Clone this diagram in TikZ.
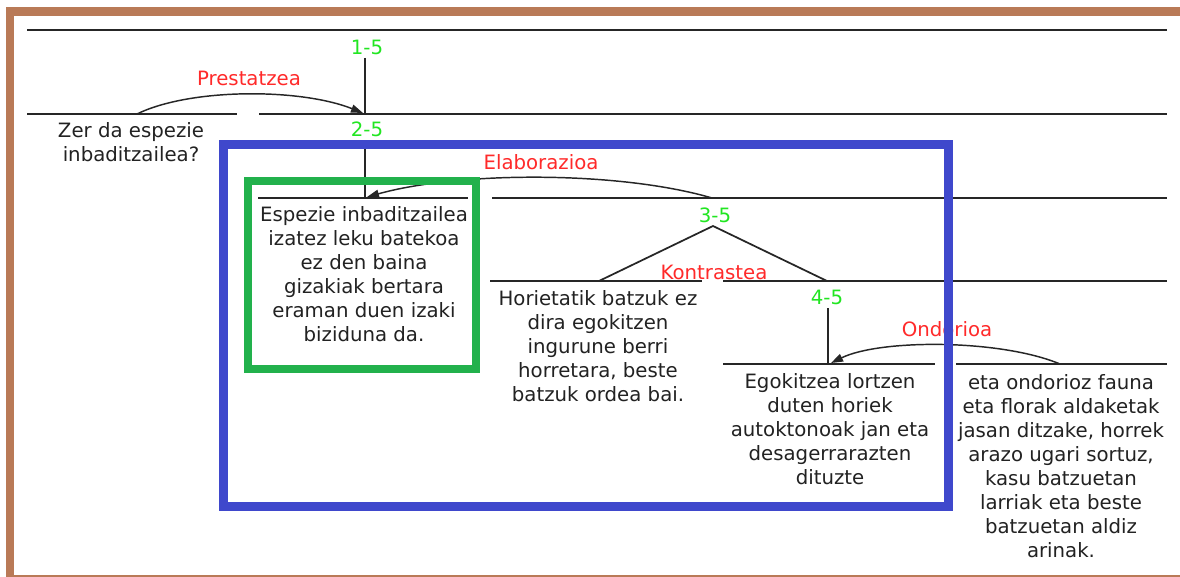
\documentclass[tikz,border=0pt]{standalone}
\usepackage{fontspec}
\setmainfont{DejaVu Sans}
\usetikzlibrary{arrows.meta}
\definecolor{frameBrown}{HTML}{B97A57}
\definecolor{boxBlue}{HTML}{3F48CC}
\definecolor{boxGreen}{HTML}{22B14C}
\definecolor{relRed}{HTML}{FF2A2A}
\definecolor{spanGreen}{HTML}{22E622}
\definecolor{txtGray}{HTML}{222222}
\begin{document}
\begin{tikzpicture}[x=0.75pt,y=-0.75pt,
  seg/.style={line width=1.3pt, draw=black!85},
  rel/.style={line width=1.1pt, draw=black!85, -{Triangle[length=9pt,width=6pt]}},
  reltext/.style={text=relRed, font=\fontsize{14.8pt}{18pt}\selectfont, inner sep=0pt},
  spantext/.style={text=spanGreen, font=\fontsize{14.8pt}{18pt}\selectfont, inner sep=0pt},
  edu/.style={text=txtGray, align=center, font=\fontsize{14.8pt}{18pt}\selectfont, inner sep=0pt}]
\useasboundingbox (0,0) rectangle (1180,577);
\fill[white] (0,0) rectangle (1180,577);
\draw[frameBrown, line width=6.5pt] (10,11.5) rectangle (1200,579.5);

% horizontal span lines
\coordinate (a1) at (27,30);   \coordinate (b1) at (1167,30);
\coordinate (a2) at (27,114);  \coordinate (b2) at (237,114);
\coordinate (c2) at (259,114); \coordinate (d2) at (1167,114);
\coordinate (a3) at (258,198); \coordinate (b3) at (468,198);
\coordinate (c3) at (492,198); \coordinate (d3) at (1167,198);
\coordinate (a4) at (490,281); \coordinate (b4) at (702,281);
\coordinate (c4) at (723,281); \coordinate (d4) at (1167,281);
\coordinate (a5) at (723,364); \coordinate (b5) at (935,364);
\coordinate (c5) at (956,364); \coordinate (d5) at (1167,364);
\draw[seg] (a1) -- (b1);
\draw[seg] (a2) -- (b2);
\draw[seg] (c2) -- (d2);
\draw[seg] (a3) -- (b3);
\draw[seg] (c3) -- (d3);
\draw[seg] (a4) -- (b4);
\draw[seg] (c4) -- (d4);
\draw[seg] (a5) -- (b5);
\draw[seg] (c5) -- (d5);

% span labels
\node[spantext] (s15) at (367,47) {1-5};
\node[spantext] (s25) at (367,129) {2-5};
\node[spantext] (s35) at (715,215) {3-5};
\node[spantext] (s45) at (827,297) {4-5};

% verticals
\coordinate (v1t) at (365,58);  \coordinate (v1b) at (365,114);
\coordinate (v2t) at (365,143); \coordinate (v2b) at (365,198);
\coordinate (apex) at (713,226);
\coordinate (footL) at (599,281); \coordinate (footR) at (827,281);
\coordinate (v4t) at (828,308); \coordinate (v4b) at (828,364);
\draw[seg] (v1t) -- (v1b);
\draw[seg] (v2t) -- (v2b);
\draw[seg] (footL) -- (apex) -- (footR);
\draw[seg] (v4t) -- (v4b);

% relation arcs
\coordinate (p0) at (137,114); \coordinate (p1) at (363,113);
\coordinate (e0) at (712,198); \coordinate (e1) at (367,197);
\coordinate (o0) at (1060,364); \coordinate (o1) at (831,363);
\draw[rel] (p0) .. controls (190,88) and (300,88) .. (p1);
\draw[rel] (e0) .. controls (620,171) and (460,171) .. (e1);
\draw[rel] (o0) .. controls (1000,339) and (880,339) .. (o1);

\node[reltext] (lp) at (249,78) {Prestatzea};
\node[reltext] (le) at (541,162) {Elaborazioa};
\node[reltext] (lk) at (714,272) {Kontrastea};
\node[reltext] (lo) at (947,329) {Ondorioa};

% text units
\node[edu] (t1) at (131,142) {Zer da espezie\\inbaditzailea?};
\node[edu] (t2) at (364,274.5) {Espezie inbaditzailea\\izatez leku batekoa\\ez den baina\\gizakiak bertara\\eraman duen izaki\\biziduna da.};
\node[edu] (t3) at (598,346.5) {Horietatik batzuk ez\\dira egokitzen\\ingurune berri\\horretara, beste\\batzuk ordea bai.};
\node[edu] (t4) at (830,429.5) {Egokitzea lortzen\\duten horiek\\autoktonoak jan eta\\desagerrarazten\\dituzte};
\node[edu] (t5) at (1061,466) {eta ondorioz fauna\\eta florak aldaketak\\jasan ditzake, horrek\\arazo ugari sortuz,\\kasu batzuetan\\larriak eta beste\\batzuetan aldiz\\arinak.};

% highlight boxes
\draw[boxBlue, line width=6.75pt] (223,145) rectangle (948,506);
\draw[boxGreen, line width=6pt] (247.5,181.5) rectangle (476,369);
\end{tikzpicture}
\end{document}
